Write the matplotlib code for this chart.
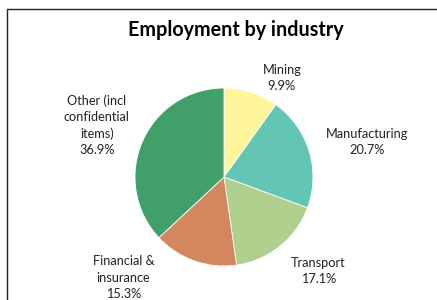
import matplotlib.pyplot as plt
from matplotlib.patches import Rectangle

# data
industries = ['Mining', 'Manufacturing', 'Transport', 'Financial &\ninsurance',
              'Other (incl\nconfidential\nitems)']
shares = [9.9, 20.7, 17.1, 15.3, 36.9]
colors = ['#FFF59A', '#63C5B3', '#AED08C', '#D4875F', '#41A06A']

# label anchor points in units of pie radius (hand placed, like the original)
label_pos = [(0.65, 1.11), (1.61, 0.39), (1.06, -1.06), (-1.13, -1.13), (-1.43, 0.58)]

plt.rcParams['font.family'] = ['Lato', 'DejaVu Sans']

W, H = 437, 300
fig = plt.figure(figsize=(W / 100, H / 100), dpi=100)

# chart border (cut off at right and bottom in the reference)
fig.patches.append(Rectangle((7 / W, -0.1), 1.2, 1 - 9 / H + 0.1,
                             transform=fig.transFigure, fill=False,
                             edgecolor='#222222', linewidth=1.0))

cx, cy, r = 224, 177, 89
ax = fig.add_axes([(cx - r) / W, (H - cy - r) / H, 2 * r / W, 2 * r / H])
ax.pie(shares, colors=colors, startangle=90, counterclock=False,
       wedgeprops=dict(edgecolor='white', linewidth=0.6))
ax.set_xlim(-1, 1)
ax.set_ylim(-1, 1)
ax.set_aspect('equal')
ax.axis('off')

for name, val, (x, y) in zip(industries, shares, label_pos):
    ax.text(x, y, f'{name}\n{val:.1f}%', ha='center', va='center',
            fontsize=9.2, color='#222222', linespacing=1.42, clip_on=False)

fig.text(236 / W, 1 - 30 / H, 'Employment by industry', ha='center', va='center',
         fontsize=14.2, fontweight='bold', color='black')

fig.savefig('out.png', dpi=100)
